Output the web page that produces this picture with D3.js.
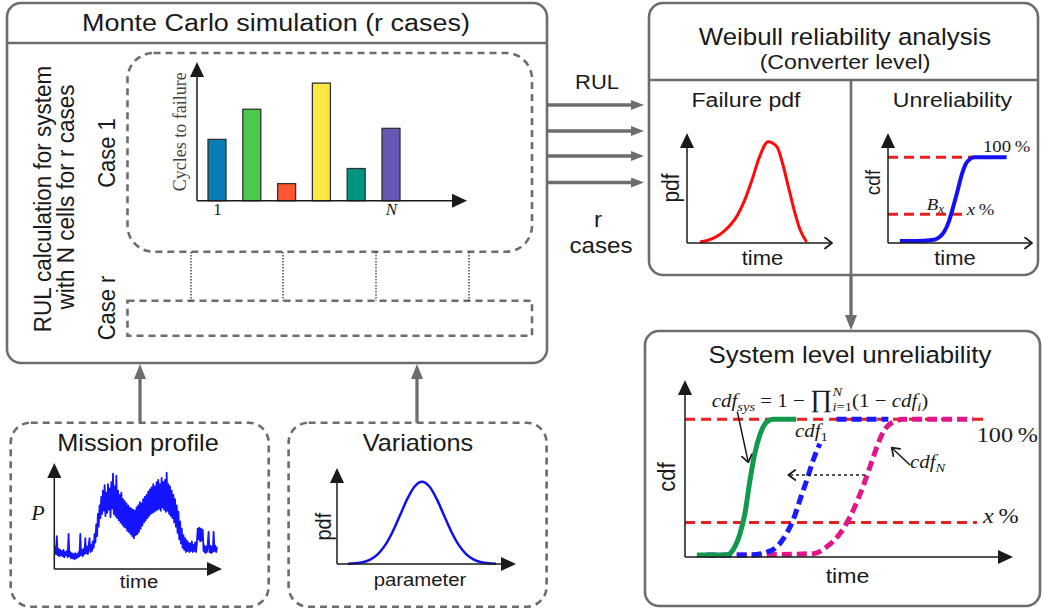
<!DOCTYPE html>
<html>
<head>
<meta charset="utf-8">
<title></title>
<script src="https://d3js.org/d3.v7.min.js"></script>
<style>
  html, body { margin: 0; padding: 0; background: #fff; }
  svg { display: block; }
</style>
</head>
<body>
<svg id="main"></svg>
<script>
// ---- values ----
// Case 1: cycles to failure for each cell
const cells = ["1", "2", "3", "4", "5", "N"];
const cellTicks = ["1", "N"];
const cyclesToFailure = [61, 91, 17, 117, 32, 72];
const cellColors = ["#0b7db5", "#4cc84a", "#ff5533", "#ffe746", "#00957e", "#6657b4"];

// mission profile, power sampled every 0.5 time units
const missionPower = [
  22,14,31,13,19,12,18,13,17,12, 18,11,16,13,17,11,33,12,16,10,
  15,10,14,9,15,10,14,11,16,12, 33,13,18,12,19,14,29,15,21,14,
  22,29,16,23,17,26,
  20,33,25,42,31,52,40,60,48,68,
  52,74,55,79,50,72,53,80,56,76,49,82,57,90,52,78,50,88,
  48,74,46,70,44,72,42,66,40,64,39,62,36,60,35,58,33,57,31,56,29,55,
  32,58,33,60,35,63,38,62,41,66,44,68,46,70,48,73,50,75,52,77,53,80,54,78,55,82,
  56,84,57,80,55,86,58,82,56,84,54,91,55,80,52,78,
  50,74,48,70,44,66,40,60,34,54,28,45,24,38,20,32,18,29,16,27,
  17,25,16,24,17,26,16,23,17,25,16,24,
  38,28,39,26,38,27,37,
  17,22,15,21,16,23,35,16,22,15,21,16,35,17,22,16,21
];

// parameter variation pdf
const variationParam = [0,0.5,1,1.5,2,2.5,3,3.5,4,4.5,5,5.5,6,6.5,7,7.5,8,8.5,9,9.5,10];
const variationPdf = [0.003,0.008,0.022,0.054,0.117,0.226,0.386,0.585,0.788,0.942,1,
                      0.942,0.788,0.585,0.386,0.226,0.117,0.054,0.022,0.008,0.003];

// converter level failure pdf
const failureTime = [0.9, 1.5, 2.0, 2.5, 3.0, 3.5, 4.0, 4.5, 5.0, 5.6, 6.2, 6.6, 7.0, 7.4, 7.8, 8.25];
const failurePdf  = [0.01, 0.03, 0.06, 0.11, 0.18, 0.28, 0.43, 0.63, 0.85, 1.0, 0.95, 0.78, 0.55, 0.32, 0.13, 0.01];

// converter level unreliability
const unrelTime = [0.83, 2.0, 2.9, 3.3, 3.6, 3.9, 4.2, 4.5, 4.8, 5.1, 5.4, 5.7, 6.0, 6.4, 8.24];
const unrelCdf  = [0, 0, 0.01, 0.02, 0.05, 0.11, 0.22, 0.39, 0.58, 0.78, 0.92, 0.98, 1, 1, 1];
const unrelLevels = [1, 0.32];
const unrelLevelEnd = [6.6, 5.35];

// system level unreliability
const sysTime  = [0.36, 1.27, 1.47, 1.68, 1.83, 1.98, 2.13, 2.29, 2.49, 2.69, 3.39];
const sysCdf   = [0, 0, 0.04, 0.16, 0.31, 0.55, 0.75, 0.89, 0.98, 1, 1];
const cdf1Time = [0.66, 1.98, 2.49, 2.80, 3.10, 3.30, 3.51, 3.71, 3.91, 4.11, 4.4, 4.62, 6.20];
const cdf1     = [0, 0, 0.02, 0.06, 0.16, 0.26, 0.41, 0.55, 0.70, 0.82, null, 1, 1];
const cdfNTime = [1.58, 3.91, 4.32, 4.73, 5.03, 5.34, 5.64, 5.84, 6.05, 6.35, 6.66, 8.79];
const cdfN     = [0, 0.01, 0.06, 0.16, 0.28, 0.45, 0.65, 0.79, 0.91, 0.98, 1, 1];
const sysLevels = [1, 0.24];
const sysLevelEnd = [9.09, 8.9];

// ---- settings ----
const width = 1044, height = 610;
const GRAY = "#6d6d6d";
const INK = "#1a1a1a";
const SANS = '"Liberation Sans", Arial, Helvetica, sans-serif';
const SERIF = '"Liberation Serif", "DejaVu Serif", serif';
const SX = 1.1;   // the figure is a little wider than tall, text included
const RED = "#e3221f";

const svg = d3.select("#main").attr("width", width).attr("height", height);
const defs = svg.append("defs");

function marker(id, color, len, wid, back, open) {
  const m = defs.append("marker").attr("id", id)
    .attr("viewBox", `0 0 ${len} ${wid}`)
    .attr("refX", open ? len - 1 - back : len - back).attr("refY", wid / 2)
    .attr("markerUnits", "userSpaceOnUse")
    .attr("markerWidth", len).attr("markerHeight", wid)
    .attr("orient", "auto");
  if (open) {
    m.append("path").attr("d", `M1,1 L${len - 1},${wid / 2} L1,${wid - 1}`)
      .attr("fill", "none").attr("stroke", color).attr("stroke-width", 1.7)
      .attr("stroke-linecap", "round").attr("stroke-linejoin", "round");
  } else {
    m.append("path").attr("d", `M0,0 L${len},${wid / 2} L0,${wid} z`).attr("fill", color);
  }
}
marker("tri", INK, 15, 14, 5, false);
marker("chev", INK, 9, 13, 0, true);
marker("chevS", INK, 9, 12, 0, true);
marker("gtri", GRAY, 13, 10, 6, false);
marker("gtriV", GRAY, 15, 12, 6, false);

function arrowLine(x1, y1, x2, y2, o) {
  const len = Math.hypot(x2 - x1, y2 - y1), back = o.back || 0;
  return svg.append("line")
    .attr("x1", x1).attr("y1", y1)
    .attr("x2", x2 - (x2 - x1) / len * back).attr("y2", y2 - (y2 - y1) / len * back)
    .attr("stroke", o.color || INK).attr("stroke-width", o.width || 1.5)
    .attr("stroke-dasharray", o.dash || null)
    .attr("marker-end", `url(#${o.marker})`);
}

function box(x, y, w, h, r, dashed) {
  return svg.append("rect").attr("x", x).attr("y", y).attr("width", w).attr("height", h)
    .attr("rx", r).attr("fill", "none").attr("stroke", GRAY).attr("stroke-width", 2.6)
    .attr("stroke-dasharray", dashed ? "7,5" : null);
}

function label(x, y, str, size, o = {}) {
  const t = svg.append("text")
    .attr("transform", `translate(${x},${y}) scale(${SX},1)` + (o.rotate ? " rotate(-90)" : ""))
    .attr("text-anchor", o.anchor || "middle")
    .attr("font-family", o.serif ? SERIF : SANS)
    .attr("font-size", size)
    .attr("font-style", o.italic ? "italic" : null)
    .attr("fill", o.color || INK)
    .text(str);
  if (o.rotate) t.attr("dy", "0.35em");
  return t;
}

// small LaTeX-like label: parts with italic / sub / sup / stacked sup
function mathText(x, y, parts, size, anchor) {
  const t = svg.append("text")
    .attr("transform", `translate(${x},${y}) scale(${SX},1)`)
    .attr("font-family", SERIF).attr("font-size", size).attr("fill", INK)
    .attr("text-anchor", anchor || "start");
  let shift = 0, subRun = 0, pending = 0;
  parts.forEach(p => {
    const target = p.sub ? size * 0.2 : p.sup ? -size * 0.6 : 0;
    const fs = (p.sub || p.sup) ? size * 0.7 : (p.big ? size * 1.3 : size);
    const s = t.append("tspan")
      .attr("dy", target - shift)
      .attr("font-size", fs)
      .attr("font-style", p.it ? "italic" : "normal")
      .text(p.t);
    shift = target;
    if (p.stack) {
      s.attr("dx", -subRun);
      pending = subRun - s.node().getComputedTextLength();
      subRun = 0;
      return;
    }
    if (pending > 0) { s.attr("dx", pending); pending = 0; }
    subRun = p.sub ? subRun + s.node().getComputedTextLength() : 0;
  });
  return t;
}

// ================= Monte Carlo block =================
box(7, 3, 540, 360, 14);
svg.append("line").attr("x1", 7).attr("x2", 547).attr("y1", 43).attr("y2", 43)
  .attr("stroke", GRAY).attr("stroke-width", 2.6);
label(276, 31, "Monte Carlo simulation (r cases)", 24.5);

label(42, 199, "RUL calculation for system", 22.5, {rotate: true});
label(65.5, 197, "with N cells for r cases", 22.5, {rotate: true});
label(106.5, 153, "Case 1", 22, {rotate: true});
label(106.5, 308, "Case r", 22, {rotate: true});

box(127.5, 53, 404.5, 198.7, 26, true);
box(127.5, 300.7, 404.5, 35, 0, true);
[191, 283, 376, 469].forEach(x => {
  svg.append("line").attr("x1", x).attr("x2", x).attr("y1", 252).attr("y2", 300.7)
    .attr("stroke", "#222").attr("stroke-width", 1.2).attr("stroke-dasharray", "1.5,1.5");
});

// bar chart of cycles to failure
const bx = d3.scalePoint().domain(cells).range([217, 391]);
const by = d3.scaleLinear().domain([0, 138]).range([200.7, 62]);
const barW = 18;
svg.append("g").selectAll("rect")
  .data(cells)
  .enter()
  .append("rect")
  .attr("x", d => bx(d) - barW / 2)
  .attr("y", (d, i) => by(cyclesToFailure[i]))
  .attr("width", barW)
  .attr("height", (d, i) => by(0) - by(cyclesToFailure[i]))
  .attr("fill", (d, i) => cellColors[i])
  .attr("stroke", "#333").attr("stroke-width", 1.3);

const barAxis = svg.append("g").attr("transform", `translate(0,${by(0)})`)
  .call(d3.axisBottom(bx).tickValues(cellTicks).tickSize(0).tickPadding(2));
barAxis.select(".domain").remove();
barAxis.selectAll("text")
  .attr("font-family", SERIF).attr("font-size", 17).attr("fill", INK)
  .attr("font-style", d => d === "N" ? "italic" : "normal");
arrowLine(197, by(0), 197, 62, {marker: "tri", back: 5});
arrowLine(197, by(0), 467, by(0), {marker: "tri", back: 5});
label(179.5, 131.7, "Cycles to failure", 18, {rotate: true, serif: true, color: "#444"});

// RUL arrows to the Weibull block
[105, 131, 156, 182.5].forEach(y => arrowLine(547, y, 644, y, {color: GRAY, width: 3.3, marker: "gtri", back: 6}));
label(597, 89, "RUL", 20);
label(598, 227, "r", 22);
label(601, 253, "cases", 22);

// ================= Weibull block =================
box(649, 3, 389, 272, 14);
svg.append("line").attr("x1", 649).attr("x2", 1038).attr("y1", 80).attr("y2", 80)
  .attr("stroke", GRAY).attr("stroke-width", 2.6);
svg.append("line").attr("x1", 851).attr("x2", 851).attr("y1", 80).attr("y2", 275)
  .attr("stroke", GRAY).attr("stroke-width", 2.6);
label(845, 45, "Weibull reliability analysis", 23.5);
label(845, 69, "(Converter level)", 21);
label(746, 107, "Failure pdf", 21);
label(952.5, 107, "Unreliability", 21);

// failure pdf
const fx = d3.scaleLinear().domain([0, 10]).range([687, 832]);
const fy = d3.scaleLinear().domain([0, 1]).range([243, 141.7]);
svg.append("path")
  .datum(failureTime.map((t, i) => [t, failurePdf[i]]))
  .attr("d", d3.line().x(d => fx(d[0])).y(d => fy(d[1])).curve(d3.curveMonotoneX))
  .attr("fill", "none").attr("stroke", "#ff0a0a").attr("stroke-width", 3);
arrowLine(fx(0), fy(0), fx(0), 133, {marker: "tri", back: 5});
arrowLine(fx(0), fy(0), fx(10), fy(0), {marker: "chev"});
label(670.5, 188, "pdf", 21, {rotate: true});
label(762.5, 265, "time", 20);

// unreliability cdf
const ux = d3.scaleLinear().domain([0, 10]).range([888, 1032]);
const uy = d3.scaleLinear().domain([0, 1]).range([241, 157.3]);
unrelLevels.forEach((v, i) => {
  svg.append("line").attr("x1", ux(0)).attr("x2", ux(unrelLevelEnd[i]))
    .attr("y1", uy(v)).attr("y2", uy(v))
    .attr("stroke", RED).attr("stroke-width", 3).attr("stroke-dasharray", "10,6");
});
svg.append("path")
  .datum(unrelTime.map((t, i) => [t, unrelCdf[i]]))
  .attr("d", d3.line().x(d => ux(d[0])).y(d => uy(d[1])).curve(d3.curveMonotoneX))
  .attr("fill", "none").attr("stroke", "#1212f5").attr("stroke-width", 4);
arrowLine(ux(0), 243, ux(0), 133, {marker: "tri", back: 5});
arrowLine(ux(0), 243, ux(10), 243, {marker: "chev"});
label(873, 182.5, "cdf", 19, {rotate: true});
label(955, 265, "time", 20);
mathText(983, 151.7, [{t: "100\u2009%"}], 17);
mathText(926.7, 210, [{t: "B", it: true}, {t: "x", it: true, sub: true}], 17);
mathText(966.7, 215, [{t: "x", it: true}, {t: "\u2009%"}], 17);

arrowLine(851, 275, 851, 330, {color: GRAY, width: 3.3, marker: "gtriV", back: 6});

// ================= System level block =================
box(645, 331, 395, 275, 14);
label(850, 363, "System level unreliability", 23.5);

const sx = d3.scaleLinear().domain([0, 10]).range([685, 1013]);
const sy = d3.scaleLinear().domain([0, 1]).range([555, 419.3]);
sysLevels.forEach((v, i) => {
  svg.append("line").attr("x1", sx(0)).attr("x2", sx(sysLevelEnd[i]))
    .attr("y1", sy(v)).attr("y2", sy(v))
    .attr("stroke", RED).attr("stroke-width", 3).attr("stroke-dasharray", "10,6");
});
const sysLine = d3.line()
  .defined(d => d[1] !== null)
  .x(d => sx(d[0])).y(d => sy(d[1]))
  .curve(d3.curveMonotoneX);
const sysSeries = [
  {time: cdfNTime, cdf: cdfN, color: "#e0168a", dash: "10,5"},
  {time: cdf1Time, cdf: cdf1, color: "#1a1aff", dash: "10,5"},
  {time: sysTime, cdf: sysCdf, color: "#12994c", dash: null}
];
sysSeries.forEach(s => {
  svg.append("path")
    .datum(s.time.map((t, i) => [t, s.cdf[i]]))
    .attr("d", sysLine)
    .attr("fill", "none").attr("stroke", s.color).attr("stroke-width", 5)
    .attr("stroke-dasharray", s.dash);
});
arrowLine(sx(0), 557, sx(0), 380, {marker: "tri", back: 5});
arrowLine(sx(0), 557, sx(10), 557, {marker: "tri", back: 5});
label(666.5, 477, "cdf", 22, {rotate: true});
label(847.5, 583, "time", 21);

mathText(711.7, 407, [
  {t: "cdf", it: true}, {t: "sys", it: true, sub: true},
  {t: " = 1 \u2212 "}, {t: "\u220F", big: true},
  {t: "i", it: true, sub: true}, {t: "=1", sub: true},
  {t: "N", it: true, sup: true, stack: true},
  {t: "(1 \u2212 "}, {t: "cdf", it: true}, {t: "i", it: true, sub: true}, {t: ")"}
], 19);
mathText(795, 437, [{t: "cdf", it: true}, {t: "1", sub: true}], 19);
mathText(910, 468, [{t: "cdf", it: true}, {t: "N", it: true, sub: true}], 19);
mathText(976.7, 441.7, [{t: "100\u2009%"}], 22);
mathText(983, 523.3, [{t: "x", it: true}, {t: "\u2009%"}], 22);

arrowLine(737.3, 411.7, 748.3, 462.3, {marker: "chevS"});
arrowLine(910, 465, 891.7, 447.7, {marker: "chevS"});
arrowLine(865, 475, 788.3, 475, {marker: "chevS", dash: "3,3", width: 1.4});

// ================= inputs =================
box(10.7, 422.7, 258, 184, 20, true);
box(288.6, 422.7, 258, 184, 20, true);
arrowLine(140, 422.7, 140, 364, {color: GRAY, width: 3.3, marker: "gtriV", back: 6});
arrowLine(417, 422.7, 417, 364, {color: GRAY, width: 3.3, marker: "gtriV", back: 6});
label(138, 451, "Mission profile", 23);
label(418, 451, "Variations", 23);

// mission profile
const mx = d3.scaleLinear().domain([0, 100]).range([54.3, 222]);
const my = d3.scaleLinear().domain([0, 100]).range([569, 463]);
svg.append("path")
  .datum(missionPower)
  .attr("d", d3.line().x((d, i) => mx((i + 1) * 0.5)).y(d => my(d)))
  .attr("fill", "none").attr("stroke", "#1414ff").attr("stroke-width", 1.8)
  .attr("stroke-linejoin", "round");
arrowLine(mx(0), my(0), mx(0), my(100), {marker: "tri", back: 5});
arrowLine(mx(0), my(0), mx(100), my(0), {marker: "tri", back: 5});
mathText(38, 520, [{t: "P", it: true}], 20, "middle");
label(139, 588, "time", 18.5);

// variations
const vx = d3.scaleLinear().domain([0, 10]).range([348, 496]);
const vy = d3.scaleLinear().domain([0, 1]).range([564, 481.7]);
svg.append("path")
  .datum(variationParam.map((p, i) => [p, variationPdf[i]]))
  .attr("d", d3.line().x(d => vx(d[0])).y(d => vy(d[1])).curve(d3.curveMonotoneX))
  .attr("fill", "none").attr("stroke", "#1010ee").attr("stroke-width", 2.5);
arrowLine(337, vy(0), 337, 468, {marker: "tri", back: 5});
arrowLine(337, vy(0), 516, vy(0), {marker: "tri", back: 5});
label(323, 526.7, "pdf", 20, {rotate: true});
label(420, 586, "parameter", 18.5);
</script>
</body>
</html>
